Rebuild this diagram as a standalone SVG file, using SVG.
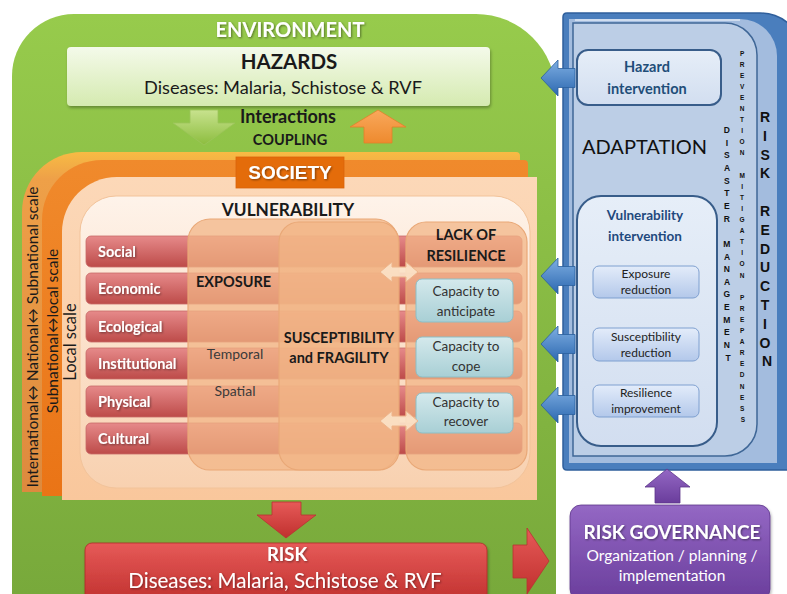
<svg xmlns="http://www.w3.org/2000/svg" width="787" height="594" viewBox="0 0 787 594">
  <defs>
    <linearGradient id="gGreen" x1="0" y1="0" x2="0" y2="1">
      <stop offset="0" stop-color="#97cb4c"/>
      <stop offset="1" stop-color="#78a93b"/>
    </linearGradient>
    <linearGradient id="gHaz" x1="0" y1="0" x2="0" y2="1">
      <stop offset="0" stop-color="#f4faea"/>
      <stop offset="1" stop-color="#d5eab0"/>
    </linearGradient>
    <linearGradient id="gGreenArrow" x1="0" y1="0" x2="0" y2="1">
      <stop offset="0" stop-color="#c8e28e"/>
      <stop offset="1" stop-color="#8cbd3e"/>
    </linearGradient>
    <linearGradient id="gOrangeArrow" x1="0" y1="0" x2="0" y2="1">
      <stop offset="0" stop-color="#f9a85c"/>
      <stop offset="1" stop-color="#ee8a2e"/>
    </linearGradient>
    <linearGradient id="gOuter" x1="0" y1="0" x2="0" y2="1">
      <stop offset="0" stop-color="#f7bb44"/>
      <stop offset="0.08" stop-color="#eea048"/>
      <stop offset="1" stop-color="#dd8a3e"/>
    </linearGradient>
    <linearGradient id="gMid" x1="0" y1="0" x2="0" y2="1">
      <stop offset="0" stop-color="#f08a2c"/>
      <stop offset="1" stop-color="#ea7416"/>
    </linearGradient>
    <linearGradient id="gPeach" x1="0" y1="0" x2="0" y2="1">
      <stop offset="0" stop-color="#fcd8b8"/>
      <stop offset="1" stop-color="#f9c79c"/>
    </linearGradient>
    <linearGradient id="gVuln" x1="0" y1="0" x2="0" y2="1">
      <stop offset="0" stop-color="#fef3ea"/>
      <stop offset="0.4" stop-color="#fce4d0"/>
      <stop offset="1" stop-color="#f8d1b0"/>
    </linearGradient>
    <linearGradient id="gRow" x1="0" y1="0" x2="0" y2="1">
      <stop offset="0" stop-color="#e68a8a"/>
      <stop offset="1" stop-color="#bd4b49"/>
    </linearGradient>
    <linearGradient id="gCap" x1="0" y1="0" x2="0" y2="1">
      <stop offset="0" stop-color="#d4e9ec"/>
      <stop offset="1" stop-color="#a8cfd5"/>
    </linearGradient>
    <linearGradient id="gRed" x1="0" y1="0" x2="0" y2="1">
      <stop offset="0" stop-color="#e65a58"/>
      <stop offset="1" stop-color="#c0302e"/>
    </linearGradient>
    <linearGradient id="gPurple" x1="0" y1="0" x2="0" y2="1">
      <stop offset="0" stop-color="#9468c4"/>
      <stop offset="1" stop-color="#6a3d9c"/>
    </linearGradient>
    <linearGradient id="gBlueArrow" x1="0" y1="0" x2="0" y2="1">
      <stop offset="0" stop-color="#7eaee2"/>
      <stop offset="1" stop-color="#2c68b0"/>
    </linearGradient>
    <linearGradient id="gLight" x1="0" y1="0" x2="0" y2="1">
      <stop offset="0" stop-color="#e6eef8"/>
      <stop offset="1" stop-color="#d2def0"/>
    </linearGradient>
    <linearGradient id="gSmall" x1="0" y1="0" x2="0" y2="1">
      <stop offset="0" stop-color="#e3ecfa"/>
      <stop offset="1" stop-color="#b3c8ea"/>
    </linearGradient>
    <filter id="shadow" x="-20%" y="-20%" width="140%" height="140%">
      <feDropShadow dx="1" dy="1" stdDeviation="0.8" flood-color="#000" flood-opacity="0.45"/>
    </filter>
    <filter id="boxShadow" x="-10%" y="-10%" width="120%" height="130%">
      <feDropShadow dx="1" dy="2" stdDeviation="1.5" flood-color="#000" flood-opacity="0.3"/>
    </filter>
  </defs>
  <style>
    text { font-family: Lato, "Open Sans", "Liberation Sans", sans-serif; }
    .b { font-weight: bold; }
    .c { text-anchor: middle; }
    .w { fill: #ffffff; }
    .k { fill: #1a1a1a; }
    .row { fill: url(#gRow); stroke: #c86a68; stroke-width: 0.8; }
    .rowTxt { font-size: 14.5px; font-weight: bold; fill: #ffffff; filter: url(#shadow); }
    .col { fill: #f2b585; fill-opacity: 0.74; stroke: #e9a877; stroke-width: 1.2; }
    .cap { fill: url(#gCap); stroke: #8cbfc6; stroke-width: 1; }
    .capTxt { font-size: 13.5px; fill: #333333; text-anchor: middle; }
    .dbl { fill: #fbe2c8; fill-opacity: 0.9; stroke: #eeb48a; stroke-width: 1; }
    .blueArrow { fill: url(#gBlueArrow); stroke: #2a5f9e; stroke-width: 0.8; }
    .small { fill: url(#gSmall); stroke: #7fa0d0; stroke-width: 1; }
    .smallTxt { font-size: 12px; fill: #222222; text-anchor: middle; }
    .letters { font-family: "Liberation Sans", Arial, sans-serif; font-weight: bold; text-anchor: middle; fill: #111111; }
    .scale { font-size: 15.5px; fill: #1a1a1a; }
  </style>

  <rect x="0" y="0" width="787" height="594" fill="#ffffff"/>

  <!-- Environment background -->
  <g id="environment">
    <path d="M12,594 L12,76 A62,62 0 0 1 74,14 L476,14 A80,80 0 0 1 556,94 L556,594 Z" fill="url(#gGreen)"/>
    <text x="290" y="37" class="b c w" font-size="20" filter="url(#shadow)">ENVIRONMENT</text>
  </g>

  <!-- Hazards -->
  <g id="hazards">
    <rect x="67" y="47" width="423" height="59" rx="4" fill="url(#gHaz)" filter="url(#boxShadow)"/>
    <text x="289" y="69" class="b c k" font-size="20.5">HAZARDS</text>
    <text x="283" y="94" class="c k" font-size="18.2">Diseases: Malaria, Schistose &amp; RVF</text>
  </g>

  <!-- Interactions / coupling -->
  <g id="coupling">
    <polygon points="190,110 218,110 218,123 235,123 204,145 173,123 190,123" fill="url(#gGreenArrow)" stroke="#9cc45a" stroke-width="0.8"/>
    <polygon points="378,110 406,127 392,127 392,143 364,143 364,127 350,127" fill="url(#gOrangeArrow)" stroke="#e2802a" stroke-width="0.8"/>
    <text x="288" y="123" class="b c k" font-size="18">Interactions</text>
    <text x="290" y="145" class="b c k" font-size="14.5">COUPLING</text>
  </g>

  <!-- Society layers with scales -->
  <g id="society">
    <path d="M22,492 L22,212 A60,60 0 0 1 82,152 L516,152 Q520,152 520,156 L520,492 Z" fill="url(#gOuter)"/>
    <path d="M42,496 L42,220 A60,60 0 0 1 102,160 L524,160 Q528,160 528,164 L528,496 Z" fill="url(#gMid)"/>
    <path d="M62,500 L62,232 A55,55 0 0 1 117,177 L537,177 L537,500 Z" fill="url(#gPeach)"/>
    <rect x="236" y="157" width="108" height="31" fill="#e46c0a" stroke="#d9640a" stroke-width="0.8"/>
    <text x="290" y="179" class="b c w" font-size="19" style="font-family:'Liberation Sans',Arial,sans-serif" filter="url(#shadow)">SOCIETY</text>
    <text transform="translate(37.5,337) rotate(-90)" class="scale c">International↔ National↔ Subnational scale</text>
    <text transform="translate(57.5,331) rotate(-90)" class="scale c">Subnational↔local scale</text>
    <text transform="translate(75.5,342) rotate(-90)" class="scale c" style="font-size:16.5px">Local scale</text>
  </g>

  <!-- Vulnerability -->
  <g id="vulnerability">
    <rect x="80" y="196" width="450" height="292" rx="36" fill="url(#gVuln)" stroke="#f2c39a" stroke-width="1"/>
    <text x="288" y="216" class="b c k" font-size="17.3">VULNERABILITY</text>
  </g>

  <!-- Dimension rows -->
  <g id="dimensions">
    <rect x="86" y="236" width="436" height="31" rx="5" class="row"/>
    <rect x="86" y="273" width="436" height="31" rx="5" class="row"/>
    <rect x="86" y="311" width="436" height="31" rx="5" class="row"/>
    <rect x="86" y="348" width="436" height="31" rx="5" class="row"/>
    <rect x="86" y="386" width="436" height="31" rx="5" class="row"/>
    <rect x="86" y="423" width="436" height="31" rx="5" class="row"/>
    <text x="98" y="256.5" class="rowTxt">Social</text>
    <text x="98" y="293.5" class="rowTxt">Economic</text>
    <text x="98" y="331.5" class="rowTxt">Ecological</text>
    <text x="98" y="368.5" class="rowTxt">Institutional</text>
    <text x="98" y="406.5" class="rowTxt">Physical</text>
    <text x="98" y="443.5" class="rowTxt">Cultural</text>
  </g>

  <!-- Exposure column -->
  <g id="exposure">
    <rect x="188" y="219" width="210" height="251" rx="22" class="col"/>
    <text x="196" y="287" class="b k" font-size="14.5">EXPOSURE</text>
    <text x="235" y="359" class="c" font-size="14" fill="#3a3a3a">Temporal</text>
    <text x="235" y="396" class="c" font-size="14" fill="#3a3a3a">Spatial</text>
  </g>

  <!-- Susceptibility column -->
  <g id="susceptibility">
    <rect x="279" y="222" width="120" height="248" rx="20" class="col"/>
    <text x="339" y="343" class="b c k" font-size="14.5">SUSCEPTIBILITY</text>
    <text x="339" y="363" class="b c k" font-size="14.5">and FRAGILITY</text>
  </g>

  <!-- Lack of resilience column -->
  <g id="resilience">
    <rect x="406" y="222" width="121" height="248" rx="20" class="col"/>
    <text x="466" y="240" class="b c k" font-size="14.5">LACK OF</text>
    <text x="466" y="261" class="b c k" font-size="14.5">RESILIENCE</text>
  </g>

  <g id="capacity-anticipate">
    <rect x="416" y="279" width="97" height="43" rx="6" class="cap"/>
    <text x="466" y="296" class="capTxt">Capacity to</text>
    <text x="466" y="316" class="capTxt">anticipate</text>
  </g>
  <g id="capacity-cope">
    <rect x="416" y="337" width="97" height="40" rx="6" class="cap"/>
    <text x="466" y="351" class="capTxt">Capacity to</text>
    <text x="466" y="371" class="capTxt">cope</text>
  </g>
  <g id="capacity-recover">
    <rect x="416" y="393" width="97" height="40" rx="6" class="cap"/>
    <text x="466" y="407" class="capTxt">Capacity to</text>
    <text x="466" y="426" class="capTxt">recover</text>
  </g>

  <!-- Risk -->
  <g id="risk">
    <rect x="85" y="543" width="402" height="60" rx="7" fill="url(#gRed)" stroke="#b02c2a" stroke-width="0.8" filter="url(#boxShadow)"/>
    <text x="287" y="561" class="b c w" font-size="18.5" filter="url(#shadow)">RISK</text>
    <text x="285" y="588" class="c w" font-size="20.5" filter="url(#shadow)">Diseases: Malaria, Schistose &amp; RVF</text>
  </g>

  <!-- Risk reduction panel -->
  <g id="risk-reduction">
    <path d="M563,17 Q563,13 567,13 L760,13 A44,44 0 0 1 804,57 L804,470 L567,470 Q563,470 563,466 Z" fill="#4a7ebd" stroke="#2f5f9c" stroke-width="1.5"/>
    <path d="M569,19 L740,19 A37,37 0 0 1 777,56 L777,463 L569,463 Z" fill="#a3bcde"/>
    <line x1="575" y1="20" x2="740" y2="20" stroke="#dfe8f4" stroke-width="1.5"/>
    <text class="letters" font-size="14">
      <tspan x="767" y="122">R</tspan>
      <tspan x="767" dy="18.8">I</tspan>
      <tspan x="767" dy="18.8">S</tspan>
      <tspan x="767" dy="18.8">K</tspan>
      <tspan x="767" dy="37.6">R</tspan>
      <tspan x="767" dy="18.8">E</tspan>
      <tspan x="767" dy="18.8">D</tspan>
      <tspan x="767" dy="18.8">U</tspan>
      <tspan x="767" dy="18.8">C</tspan>
      <tspan x="767" dy="18.8">T</tspan>
      <tspan x="767" dy="18.8">I</tspan>
      <tspan x="767" dy="18.8">O</tspan>
      <tspan x="767" dy="18.8">N</tspan>
    </text>
  </g>

  <!-- Disaster management panel -->
  <g id="disaster-management">
    <path d="M573,23 L725,23 A32,32 0 0 1 757,55 L757,424 A32,32 0 0 1 725,456 L573,456 Z" fill="#bccee6" stroke="#3f6797" stroke-width="1.5"/>
    <text class="letters" font-size="8.5">
      <tspan x="728" y="133">D</tspan>
      <tspan x="728" dy="12.65">I</tspan>
      <tspan x="728" dy="12.65">S</tspan>
      <tspan x="728" dy="12.65">A</tspan>
      <tspan x="728" dy="12.65">S</tspan>
      <tspan x="728" dy="12.65">T</tspan>
      <tspan x="728" dy="12.65">E</tspan>
      <tspan x="728" dy="12.65">R</tspan>
      <tspan x="728" dy="25.3">M</tspan>
      <tspan x="728" dy="12.65">A</tspan>
      <tspan x="728" dy="12.65">N</tspan>
      <tspan x="728" dy="12.65">A</tspan>
      <tspan x="728" dy="12.65">G</tspan>
      <tspan x="728" dy="12.65">E</tspan>
      <tspan x="728" dy="12.65">M</tspan>
      <tspan x="728" dy="12.65">E</tspan>
      <tspan x="728" dy="12.65">N</tspan>
      <tspan x="728" dy="12.65">T</tspan>
    </text>
    <text class="letters" font-size="6.5">
      <tspan x="743" y="55.5">P</tspan>
      <tspan x="743" dy="11.1">R</tspan>
      <tspan x="743" dy="11.1">E</tspan>
      <tspan x="743" dy="11.1">V</tspan>
      <tspan x="743" dy="11.1">E</tspan>
      <tspan x="743" dy="11.1">N</tspan>
      <tspan x="743" dy="11.1">T</tspan>
      <tspan x="743" dy="11.1">I</tspan>
      <tspan x="743" dy="11.1">O</tspan>
      <tspan x="743" dy="11.1">N</tspan>
      <tspan x="743" dy="22.2">M</tspan>
      <tspan x="743" dy="11.1">I</tspan>
      <tspan x="743" dy="11.1">T</tspan>
      <tspan x="743" dy="11.1">I</tspan>
      <tspan x="743" dy="11.1">G</tspan>
      <tspan x="743" dy="11.1">A</tspan>
      <tspan x="743" dy="11.1">T</tspan>
      <tspan x="743" dy="11.1">I</tspan>
      <tspan x="743" dy="11.1">O</tspan>
      <tspan x="743" dy="11.1">N</tspan>
      <tspan x="743" dy="22.2">P</tspan>
      <tspan x="743" dy="11.1">R</tspan>
      <tspan x="743" dy="11.1">E</tspan>
      <tspan x="743" dy="11.1">P</tspan>
      <tspan x="743" dy="11.1">A</tspan>
      <tspan x="743" dy="11.1">R</tspan>
      <tspan x="743" dy="11.1">E</tspan>
      <tspan x="743" dy="11.1">D</tspan>
      <tspan x="743" dy="11.1">N</tspan>
      <tspan x="743" dy="11.1">E</tspan>
      <tspan x="743" dy="11.1">S</tspan>
      <tspan x="743" dy="11.1">S</tspan>
    </text>
    <text x="582" y="154" font-size="20" fill="#111111">ADAPTATION</text>
  </g>

  <g id="hazard-intervention">
    <rect x="577" y="50" width="144" height="55" rx="11" fill="url(#gLight)" stroke="#385d8a" stroke-width="2"/>
    <text x="647" y="72" class="b c" font-size="14.5" fill="#1f4e79">Hazard</text>
    <text x="647" y="94" class="b c" font-size="14.5" fill="#1f4e79">intervention</text>
  </g>

  <g id="vulnerability-intervention">
    <rect x="577" y="196" width="140" height="250" rx="24" fill="url(#gLight)" stroke="#385d8a" stroke-width="2"/>
    <text x="645" y="220" class="b c" font-size="13.5" fill="#1f497d">Vulnerability</text>
    <text x="645" y="241" class="b c" font-size="13.5" fill="#1f497d">intervention</text>
  </g>
  <g id="exposure-reduction">
    <rect x="593" y="266" width="106" height="32" rx="6" class="small"/>
    <text x="646" y="278" class="smallTxt">Exposure</text>
    <text x="646" y="294" class="smallTxt">reduction</text>
  </g>
  <g id="susceptibility-reduction">
    <rect x="593" y="328" width="106" height="33" rx="6" class="small"/>
    <text x="646" y="341" class="smallTxt">Susceptibility</text>
    <text x="646" y="357" class="smallTxt">reduction</text>
  </g>
  <g id="resilience-improvement">
    <rect x="593" y="385" width="106" height="32" rx="6" class="small"/>
    <text x="646" y="397" class="smallTxt">Resilience</text>
    <text x="646" y="413" class="smallTxt">improvement</text>
  </g>

  <!-- Risk governance -->
  <g id="risk-governance">
    <rect x="570" y="505" width="200" height="95" rx="11" fill="url(#gPurple)" stroke="#5d358a" stroke-width="0.8" filter="url(#boxShadow)"/>
    <text x="672" y="539" class="b c w" font-size="19" filter="url(#shadow)">RISK GOVERNANCE</text>
    <text x="672" y="561" class="c w" font-size="15.5">Organization / planning /</text>
    <text x="672" y="581" class="c w" font-size="15.5">implementation</text>
  </g>

  <!-- Connectors -->
  <g id="connectors">
    <path class="dbl" d="M380,272 L392,262 L392,267 L406,267 L406,262 L418,272 L406,282 L406,277 L392,277 L392,282 Z"/>
    <path class="dbl" d="M380,421 L392,411 L392,416 L406,416 L406,411 L418,421 L406,431 L406,426 L392,426 L392,431 Z"/>
    <polygon points="272,502 301,502 301,515 316,515 286,538 257,515 272,515" fill="url(#gRed)" stroke="#b83230" stroke-width="0.8"/>
    <polygon points="513,545 527,545 527,528 549,561 527,594 527,578 513,578" fill="url(#gRed)" stroke="#b83230" stroke-width="0.8"/>
    <polygon points="667,469 690,487 680,487 680,503 655,503 655,487 645,487" fill="url(#gPurple)" stroke="#5d358a" stroke-width="0.8"/>
    <polygon class="blueArrow" points="541,78 558,60 558,68.5 575,68.5 575,87.5 558,87.5 558,96"/>
    <polygon class="blueArrow" points="541,276 558,258 558,266.5 575,266.5 575,285.5 558,285.5 558,294"/>
    <polygon class="blueArrow" points="541,344 558,326 558,334.5 575,334.5 575,353.5 558,353.5 558,362"/>
    <polygon class="blueArrow" points="541,405 558,387 558,395.5 575,395.5 575,414.5 558,414.5 558,423"/>
  </g>
</svg>
